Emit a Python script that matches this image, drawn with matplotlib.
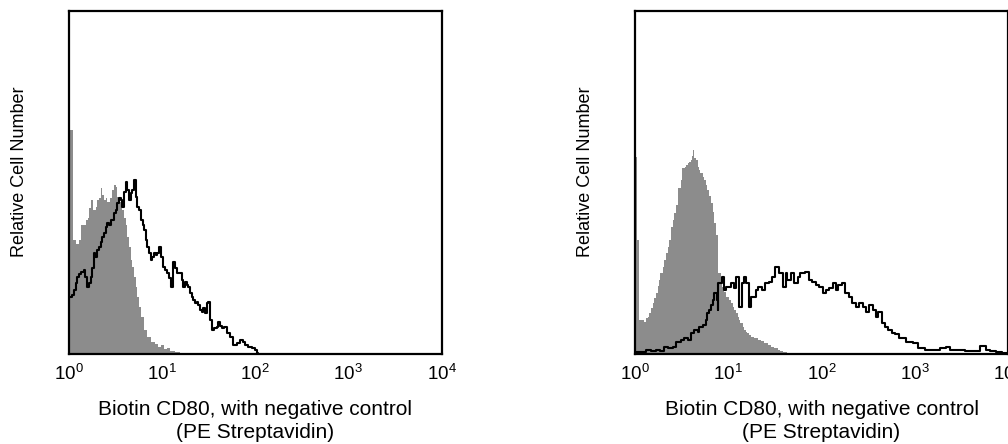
import numpy as np
import matplotlib
matplotlib.use("Agg")
import matplotlib.pyplot as plt

plt.rcParams['font.family'] = ['Liberation Sans', 'DejaVu Sans']
plt.rcParams['mathtext.fontset'] = 'custom'
plt.rcParams['mathtext.rm'] = 'Liberation Sans'

# values: log10(fluorescence) of each step, and relative cell number (% of axis)
# left panel - negative control (grey fill)
left_ctrl_log = [0.000, 0.048, 0.080, 0.113, 0.134, 0.166, 0.188, 0.209, 0.220, 0.241,
                 0.263, 0.295, 0.306, 0.327, 0.349, 0.359, 0.381, 0.402, 0.413, 0.445,
                 0.466, 0.488, 0.509, 0.520, 0.542, 0.563, 0.574, 0.595, 0.617, 0.627,
                 0.649, 0.670, 0.681, 0.702, 0.724, 0.735, 0.756, 0.777, 0.809, 0.842,
                 0.885, 0.928, 0.960, 0.992, 1.024, 1.056, 1.088, 1.142, 1.196]
left_ctrl = [65.3, 33.2, 32.1, 33.2, 37.6, 37.6, 39.1, 39.7, 42.6, 44.9,
             42.0, 42.9, 44.9, 45.5, 48.4, 46.4, 44.9, 45.5, 44.3, 45.5,
             47.8, 49.3, 48.7, 45.8, 44.3, 42.9, 42.0, 39.7, 37.6, 34.1,
             31.2, 27.4, 25.4, 22.4, 19.5, 16.6, 13.7, 10.8, 7.0, 5.0,
             3.5, 2.9, 2.0, 2.6, 1.5, 1.7, 0.9, 0.6, 0.0]

# left panel - Biotin CD80 (black line)
left_cd80_log = [0.000, 0.038, 0.059, 0.080, 0.091, 0.113, 0.134, 0.166, 0.177, 0.198,
                 0.220, 0.241, 0.252, 0.273, 0.284, 0.306, 0.327, 0.349, 0.359, 0.381,
                 0.402, 0.413, 0.434, 0.456, 0.488, 0.509, 0.520, 0.542, 0.563, 0.574,
                 0.595, 0.617, 0.627, 0.649, 0.670, 0.681, 0.702, 0.724, 0.735, 0.756,
                 0.777, 0.799, 0.809, 0.831, 0.842, 0.863, 0.885, 0.895, 0.917, 0.938,
                 0.949, 0.971, 0.992, 1.013, 1.035, 1.056, 1.078, 1.099, 1.121, 1.142,
                 1.164, 1.196, 1.217, 1.228, 1.249, 1.271, 1.282, 1.303, 1.324, 1.335,
                 1.357, 1.378, 1.389, 1.410, 1.432, 1.442, 1.464, 1.485, 1.496, 1.517,
                 1.539, 1.560, 1.592, 1.603, 1.625, 1.646, 1.668, 1.700, 1.727, 1.764,
                 1.807, 1.839, 1.871, 1.893, 1.925, 1.968, 2.000, 2.021, 2.032]
left_cd80 = [16.6, 17.2, 18.7, 20.7, 22.4, 23.3, 23.9, 24.5, 22.4, 19.5,
             20.7, 22.4, 25.1, 29.4, 28.3, 30.3, 31.2, 32.7, 34.1, 35.3,
             37.0, 38.2, 37.6, 39.1, 41.1, 42.0, 44.0, 45.5, 44.9, 42.9,
             47.2, 50.1, 47.8, 44.9, 46.9, 47.8, 50.7, 45.8, 42.9, 42.0,
             39.1, 37.6, 36.2, 33.2, 31.2, 29.4, 27.4, 28.3, 29.4, 28.9,
             29.4, 31.2, 28.3, 25.4, 24.5, 23.6, 22.2, 19.5, 26.8, 25.1,
             23.6, 23.6, 21.6, 19.5, 21.0, 20.1, 19.5, 17.8, 16.6, 15.7,
             14.9, 15.2, 14.3, 12.8, 12.2, 13.4, 12.0, 14.9, 15.2, 9.9,
             7.0, 7.6, 7.9, 9.3, 8.2, 7.6, 7.9, 6.1, 5.0, 2.6,
             3.2, 4.1, 3.5, 2.6, 2.0, 1.7, 1.2, 0.3, 0.0]

# right panel - negative control (grey fill)
right_ctrl_log = [0.000, 0.016, 0.038, 0.091, 0.113, 0.134, 0.145, 0.166, 0.188, 0.198,
                  0.220, 0.241, 0.252, 0.273, 0.295, 0.306, 0.327, 0.349, 0.359, 0.381,
                  0.402, 0.413, 0.434, 0.456, 0.466, 0.488, 0.509, 0.531, 0.542, 0.563,
                  0.574, 0.595, 0.606, 0.617, 0.627, 0.649, 0.670, 0.681, 0.702, 0.724,
                  0.735, 0.756, 0.777, 0.788, 0.810, 0.831, 0.842, 0.863, 0.885, 0.895,
                  0.917, 0.938, 0.949, 0.971, 1.003, 1.024, 1.046, 1.056, 1.078, 1.099,
                  1.110, 1.131, 1.153, 1.164, 1.185, 1.206, 1.217, 1.239, 1.271, 1.314,
                  1.346, 1.378, 1.421, 1.453, 1.485, 1.528, 1.560, 1.592, 1.635]
right_ctrl = [57.4, 33.2, 9.9, 9.3, 10.5, 10.8, 12.0, 13.4, 14.9, 16.3,
              17.8, 19.8, 21.6, 23.6, 25.4, 27.4, 29.4, 31.2, 33.2, 37.0,
              39.1, 41.1, 43.4, 45.8, 48.4, 50.7, 54.2, 54.5, 55.1, 55.7,
              56.0, 56.6, 57.7, 59.5, 57.1, 56.6, 54.5, 53.6, 52.8, 51.6,
              50.7, 49.3, 47.8, 46.1, 44.0, 41.4, 38.2, 34.7, 30.3, 23.6,
              21.6, 19.5, 18.1, 16.6, 15.7, 14.9, 13.7, 12.8, 12.0, 10.8,
              9.9, 9.0, 7.9, 7.0, 6.4, 6.1, 5.5, 5.0, 4.7, 4.1,
              3.8, 3.2, 2.6, 2.0, 1.7, 1.2, 0.9, 0.6, 0.0]

# right panel - Biotin CD80 (black line)
right_cd80_log = [0.000, 0.059, 0.113, 0.166, 0.220, 0.273, 0.306, 0.349, 0.402, 0.434,
                  0.488, 0.520, 0.563, 0.595, 0.627, 0.670, 0.681, 0.724, 0.756, 0.777,
                  0.788, 0.810, 0.831, 0.842, 0.874, 0.885, 0.895, 0.928, 0.949, 0.971,
                  0.992, 1.024, 1.056, 1.088, 1.110, 1.142, 1.164, 1.185, 1.217, 1.249,
                  1.292, 1.324, 1.367, 1.399, 1.432, 1.474, 1.506, 1.539, 1.582, 1.614,
                  1.635, 1.668, 1.700, 1.743, 1.774, 1.828, 1.861, 1.903, 1.936, 1.968,
                  2.011, 2.043, 2.075, 2.118, 2.150, 2.182, 2.225, 2.257, 2.290, 2.332,
                  2.365, 2.397, 2.440, 2.472, 2.504, 2.547, 2.579, 2.611, 2.654, 2.686,
                  2.718, 2.761, 2.793, 2.826, 2.901, 2.976, 3.040, 3.115, 3.222, 3.276,
                  3.330, 3.383, 3.437, 3.544, 3.651, 3.705, 3.759, 3.812, 3.866, 3.941,
                  3.995]
right_cd80 = [0.6, 0.6, 1.2, 0.9, 1.2, 0.9, 2.0, 1.7, 2.0, 3.5,
              4.1, 4.7, 4.1, 6.1, 7.0, 6.4, 7.9, 8.5, 9.9, 12.0,
              12.8, 14.3, 15.7, 17.8, 15.7, 12.8, 20.7, 22.4, 18.7, 19.5,
              19.5, 20.7, 19.2, 22.4, 13.7, 20.7, 22.4, 20.7, 13.7, 16.6,
              18.7, 19.5, 18.7, 20.7, 21.0, 22.4, 25.4, 23.6, 19.5, 23.6,
              21.6, 23.6, 20.7, 22.4, 23.6, 23.9, 21.6, 21.0, 20.1, 19.5,
              17.8, 18.7, 19.2, 20.7, 18.7, 20.1, 20.7, 17.8, 16.6, 14.9,
              13.7, 14.9, 13.7, 12.2, 14.3, 12.8, 10.8, 12.2, 9.0, 7.9,
              7.0, 6.1, 5.8, 4.7, 3.5, 3.2, 1.7, 1.2, 1.2, 1.7,
              2.0, 1.2, 1.2, 0.9, 0.9, 2.3, 1.2, 0.9, 0.6, 0.3,
              0.3]

tick_vals = [1, 10, 100, 1000, 10000]
xlabel = "Biotin CD80, with negative control\n(PE Streptavidin)"
ylabel = "Relative Cell Number"

grey = '#8c8c8c'

fig = plt.figure(figsize=(10.08, 4.44), dpi=100)
ax1 = fig.add_axes([0.068, 0.203, 0.370, 0.772])
ax2 = fig.add_axes([0.630, 0.203, 0.370, 0.772])

panels = [(ax1, left_ctrl_log, left_ctrl, left_cd80_log, left_cd80),
          (ax2, right_ctrl_log, right_ctrl, right_cd80_log, right_cd80)]

for ax, c_log, c_val, s_log, s_val in panels:
    ax.fill_between(10 ** np.array(c_log), c_val, step='post', color=grey, lw=0)
    ax.step(10 ** np.array(s_log), s_val, where='post', color='black', lw=1.5)
    ax.set_xscale('log')
    ax.set_xlim(1, 10000)
    ax.set_ylim(0, 100)
    ax.set_xticks(tick_vals)
    ax.minorticks_off()
    ax.set_yticks([])
    ax.tick_params(axis='x', length=0, pad=7, labelsize=13.5)
    for sp in ax.spines.values():
        sp.set_linewidth(1.6)
        sp.set_color('black')
    ax.set_xlabel(xlabel, fontsize=15, linespacing=1.25)
    ax.xaxis.set_label_coords(0.5, -0.135)
    ax.set_ylabel(ylabel, fontsize=13)
    ax.yaxis.set_label_coords(-0.11, 0.53)

fig.savefig("out.png", dpi=100)
